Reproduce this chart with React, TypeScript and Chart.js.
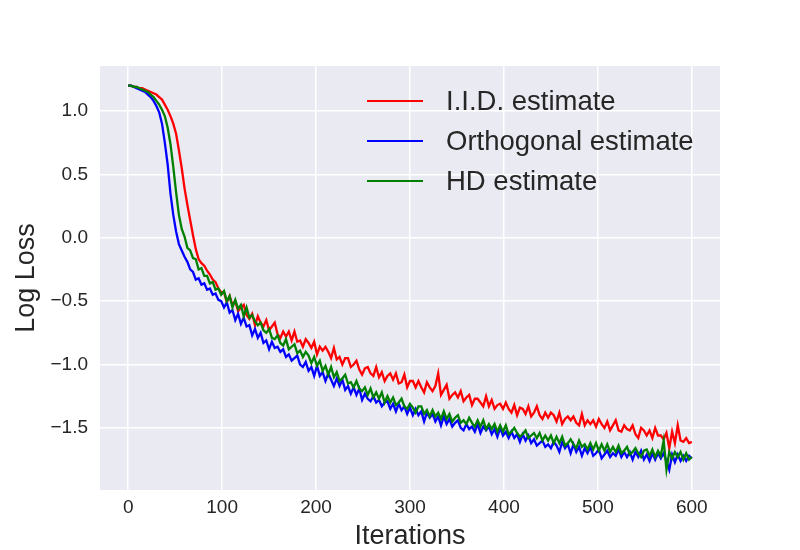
import { useEffect, useRef } from 'react';
import { Chart, registerables } from 'chart.js';

Chart.register(...registerables);

const ITERATIONS = [
  0, 3, 6, 9, 12, 15, 18, 21, 24, 27, 30, 33, 36, 39, 42, 45, 48, 51, 54, 57,
  60, 63, 66, 69, 72, 75, 78, 81, 84, 87, 90, 93, 96, 99, 102, 105, 108, 111, 114, 117,
  120, 123, 126, 129, 132, 135, 138, 141, 144, 147, 150, 153, 156, 159, 162, 165, 168, 171, 174, 177,
  180, 183, 186, 189, 192, 195, 198, 201, 204, 207, 210, 213, 216, 219, 222, 225, 228, 231, 234, 237,
  240, 243, 246, 249, 252, 255, 258, 261, 264, 267, 270, 273, 276, 279, 282, 285, 288, 291, 294, 297,
  300, 303, 306, 309, 312, 315, 318, 321, 324, 327, 330, 333, 336, 339, 342, 345, 348, 351, 354, 357,
  360, 363, 366, 369, 372, 375, 378, 381, 384, 387, 390, 393, 396, 399, 402, 405, 408, 411, 414, 417,
  420, 423, 426, 429, 432, 435, 438, 441, 444, 447, 450, 453, 456, 459, 462, 465, 468, 471, 474, 477,
  480, 483, 486, 489, 492, 495, 498, 501, 504, 507, 510, 513, 516, 519, 522, 525, 528, 531, 534, 537,
  540, 543, 546, 549, 552, 555, 558, 561, 564, 567, 570, 573, 576, 579, 582, 585, 588, 591, 594, 597,
  600,
];

const IID_LOSS = [
  1.20, 1.20, 1.19, 1.19, 1.18, 1.18, 1.17, 1.16, 1.15, 1.14,
  1.13, 1.11, 1.09, 1.05, 1.01, 0.96, 0.90, 0.82, 0.69, 0.55,
  0.39, 0.26, 0.14, 0.02, -0.09, -0.17, -0.20, -0.22, -0.26, -0.29,
  -0.33, -0.35, -0.40, -0.43,
  -0.43, -0.51, -0.46, -0.53, -0.50, -0.58, -0.55, -0.53, -0.61, -0.64,
  -0.60, -0.69, -0.62, -0.67, -0.70, -0.65, -0.73, -0.70, -0.67, -0.76,
  -0.79, -0.74, -0.78, -0.74, -0.81, -0.74, -0.82, -0.81, -0.86, -0.80,
  -0.83, -0.87, -0.82, -0.92, -0.86, -0.89, -0.86, -0.90, -0.95, -0.87,
  -0.96, -0.94, -1.00, -0.95, -0.95, -1.02, -1.00, -0.97, -1.04, -1.08,
  -1.03, -1.02, -1.07, -1.09, -1.02, -1.10, -1.06, -1.13, -1.09, -1.07,
  -1.12, -1.07, -1.15, -1.14, -1.08, -1.18, -1.13, -1.13, -1.18, -1.13,
  -1.18, -1.22, -1.14, -1.18, -1.21, -1.17, -1.07, -1.24, -1.20, -1.16,
  -1.27, -1.24, -1.22, -1.26, -1.21, -1.29, -1.26, -1.24, -1.32, -1.27,
  -1.27, -1.30, -1.33, -1.25, -1.33, -1.28, -1.35, -1.32, -1.31, -1.35,
  -1.30, -1.35, -1.38, -1.32, -1.40, -1.34, -1.35, -1.39, -1.33, -1.41,
  -1.38, -1.33, -1.40, -1.43, -1.38, -1.42, -1.38, -1.40, -1.45, -1.38,
  -1.47, -1.43, -1.41, -1.44, -1.41, -1.46, -1.48, -1.39, -1.48, -1.44,
  -1.47, -1.44, -1.49, -1.43, -1.47, -1.50, -1.45, -1.52, -1.48, -1.44,
  -1.52, -1.53, -1.48, -1.51, -1.52, -1.48, -1.55, -1.58, -1.50, -1.52,
  -1.56, -1.52, -1.58, -1.50, -1.56, -1.56, -1.59, -1.54, -1.66, -1.53,
  -1.62, -1.48, -1.60, -1.61, -1.58, -1.62, -1.61,
];

const ORTHO_LOSS = [
  1.20, 1.20, 1.19, 1.18, 1.17, 1.16, 1.15, 1.13, 1.11, 1.08,
  1.04, 0.99, 0.90, 0.75, 0.58, 0.35, 0.18, 0.05, -0.05, -0.10,
  -0.15, -0.19, -0.25, -0.27, -0.33, -0.32, -0.37, -0.36, -0.41, -0.40,
  -0.45, -0.44, -0.49, -0.50,
  -0.55, -0.51, -0.59, -0.57, -0.65, -0.60, -0.68, -0.63, -0.70, -0.69,
  -0.77, -0.72, -0.79, -0.75, -0.83, -0.81, -0.88, -0.82, -0.87, -0.86,
  -0.90, -0.88, -0.94, -0.92, -0.97, -0.95, -0.93, -1.00, -1.02, -0.98,
  -1.05, -1.02, -1.09, -1.01, -1.09, -1.06, -1.13, -1.07, -1.12, -1.17,
  -1.11, -1.17, -1.12, -1.20, -1.17, -1.23, -1.18, -1.24, -1.19, -1.28,
  -1.23, -1.27, -1.29, -1.25, -1.30, -1.28, -1.33, -1.30, -1.29, -1.35,
  -1.31, -1.37, -1.31, -1.36, -1.33, -1.39, -1.34, -1.40, -1.35, -1.40,
  -1.37, -1.45, -1.38, -1.42, -1.39, -1.45, -1.41, -1.48, -1.41, -1.47,
  -1.43, -1.49, -1.46, -1.44, -1.50, -1.52, -1.47, -1.51, -1.49, -1.53,
  -1.47, -1.54, -1.49, -1.52, -1.49, -1.55, -1.51, -1.57, -1.50, -1.56,
  -1.53, -1.58, -1.53, -1.58, -1.55, -1.61, -1.55, -1.60, -1.56, -1.62,
  -1.59, -1.64, -1.62, -1.60, -1.65, -1.63, -1.66, -1.61, -1.64, -1.69,
  -1.61, -1.66, -1.63, -1.70, -1.63, -1.69, -1.65, -1.72, -1.66, -1.70,
  -1.65, -1.72, -1.70, -1.67, -1.74, -1.71, -1.68, -1.73, -1.70, -1.72,
  -1.67, -1.73, -1.69, -1.73, -1.69, -1.75, -1.69, -1.73, -1.68, -1.75,
  -1.71, -1.76, -1.70, -1.75, -1.70, -1.74, -1.70, -1.76, -1.83, -1.71,
  -1.77, -1.71, -1.76, -1.72, -1.76, -1.72, -1.74,
];

const HD_LOSS = [
  1.20, 1.20, 1.19, 1.19, 1.18, 1.17, 1.16, 1.15, 1.13, 1.11,
  1.08, 1.05, 1.01, 0.96, 0.87, 0.74, 0.56, 0.36, 0.18, 0.07,
  0.01, -0.08, -0.10, -0.16, -0.17, -0.25, -0.24, -0.30, -0.30, -0.36,
  -0.35, -0.41, -0.40, -0.45,
  -0.42, -0.50, -0.46, -0.55, -0.49, -0.56, -0.53, -0.62, -0.55, -0.63,
  -0.61, -0.66, -0.69, -0.67, -0.73, -0.75, -0.72, -0.79, -0.80, -0.77,
  -0.83, -0.85, -0.80, -0.88, -0.86, -0.84, -0.91, -0.89, -0.94, -0.90,
  -0.93, -0.99, -0.94, -1.01, -0.97, -1.05, -1.01, -1.08, -1.02, -1.10,
  -1.06, -1.13, -1.11, -1.08, -1.15, -1.14, -1.18, -1.13, -1.19, -1.21,
  -1.18, -1.24, -1.19, -1.26, -1.22, -1.27, -1.22, -1.30, -1.25, -1.30,
  -1.26, -1.32, -1.30, -1.27, -1.33, -1.35, -1.31, -1.34, -1.38, -1.33,
  -1.33, -1.39, -1.36, -1.41, -1.36, -1.41, -1.38, -1.43, -1.37, -1.43,
  -1.39, -1.45, -1.42, -1.40, -1.46, -1.44, -1.47, -1.42, -1.46, -1.49,
  -1.44, -1.49, -1.44, -1.51, -1.47, -1.51, -1.47, -1.53, -1.48, -1.53,
  -1.48, -1.55, -1.53, -1.50, -1.54, -1.57, -1.55, -1.52, -1.58, -1.56,
  -1.54, -1.58, -1.54, -1.60, -1.56, -1.60, -1.56, -1.62, -1.57, -1.62,
  -1.57, -1.64, -1.62, -1.59, -1.63, -1.66, -1.60, -1.65, -1.63, -1.67,
  -1.62, -1.67, -1.62, -1.68, -1.63, -1.68, -1.63, -1.69, -1.65, -1.69,
  -1.64, -1.70, -1.68, -1.65, -1.71, -1.69, -1.66, -1.70, -1.73, -1.68,
  -1.67, -1.72, -1.67, -1.73, -1.68, -1.72, -1.60, -1.83, -1.69, -1.74,
  -1.69, -1.73, -1.69, -1.75, -1.70, -1.75, -1.73,
];

const X_TICKS = [0, 100, 200, 300, 400, 500, 600];
const Y_TICKS = [-1.5, -1.0, -0.5, 0.0, 0.5, 1.0];

const SERIES = [
  { label: 'I.I.D. estimate', values: IID_LOSS, color: '#ff0000' },
  { label: 'Orthogonal estimate', values: ORTHO_LOSS, color: '#0000ff' },
  { label: 'HD estimate', values: HD_LOSS, color: '#008000' },
];

const FONT = "Arial, 'Liberation Sans', Helvetica, sans-serif";
const TEXT = '#262626';

// seaborn-like grey plot face
const plotFace = {
  id: 'plotFace',
  beforeDraw(chart: Chart) {
    const { ctx, chartArea: a } = chart;
    ctx.save();
    ctx.fillStyle = '#eaeaf2';
    ctx.fillRect(a.left, a.top, a.right - a.left, a.bottom - a.top);
    ctx.restore();
  },
};

export default function App() {
  const canvasRef = useRef<HTMLCanvasElement | null>(null);

  useEffect(() => {
    if (!canvasRef.current) return;
    const chart = new Chart(canvasRef.current, {
      type: 'line',
      data: {
        datasets: SERIES.map((s, i) => ({
          label: s.label,
          data: ITERATIONS.map((it, j) => ({ x: it, y: s.values[j] })),
          borderColor: s.color,
          backgroundColor: s.color,
          borderWidth: 2.3,
          pointRadius: 0,
          tension: 0,
          fill: false,
          order: SERIES.length - i, // later series on top, like matplotlib
        })),
      },
      options: {
        animation: false,
        responsive: true,
        maintainAspectRatio: false,
        layout: { padding: { left: 0, top: 66, right: 80, bottom: 0 } },
        plugins: {
          legend: { display: false },
          tooltip: { enabled: false },
        },
        scales: {
          x: {
            type: 'linear',
            min: -30,
            max: 630,
            afterBuildTicks: (scale) => {
              scale.ticks = X_TICKS.map((value) => ({ value }));
            },
            afterFit: (scale) => {
              scale.height = 60;
            },
            grid: { color: '#ffffff', lineWidth: 1.5, drawTicks: false },
            border: { display: false },
            ticks: {
              color: TEXT,
              autoSkip: false,
              maxRotation: 0,
              padding: 6,
              font: { family: FONT, size: 19 },
            },
            title: {
              display: true,
              text: 'Iterations',
              color: TEXT,
              font: { family: FONT, size: 27, lineHeight: 1 },
              padding: 0,
            },
          },
          y: {
            type: 'linear',
            min: -1.99,
            max: 1.355,
            afterBuildTicks: (scale) => {
              scale.ticks = Y_TICKS.map((value) => ({ value }));
            },
            afterFit: (scale) => {
              scale.width = 100;
            },
            grid: { color: '#ffffff', lineWidth: 1.5, drawTicks: false },
            border: { display: false },
            ticks: {
              color: TEXT,
              padding: 12,
              font: { family: FONT, size: 19 },
              callback: (v) => Number(v).toFixed(1).replace('-', '\u2212'),
            },
            title: {
              display: true,
              text: 'Log Loss',
              color: TEXT,
              font: { family: FONT, size: 27, lineHeight: 1 },
              padding: { top: 13, bottom: 0 },
            },
          },
        },
      },
      plugins: [plotFace],
    });
    return () => chart.destroy();
  }, []);

  return (
    <div style={{ position: 'absolute', left: 0, top: 0, width: 800, height: 550, background: '#fff' }}>
      <canvas ref={canvasRef} />
      {/* legend sits inside the plot, no frame */}
      <div style={{ position: 'absolute', left: 367, top: 81, pointerEvents: 'none' }}>
        {SERIES.map((s) => (
          <div key={s.label} style={{ display: 'flex', alignItems: 'center', height: 40 }}>
            <span style={{ width: 56, height: 2, background: s.color, marginRight: 23 }} />
            <span style={{ fontFamily: FONT, fontSize: 27.5, lineHeight: 1, color: TEXT, whiteSpace: 'nowrap' }}>
              {s.label}
            </span>
          </div>
        ))}
      </div>
    </div>
  );
}
